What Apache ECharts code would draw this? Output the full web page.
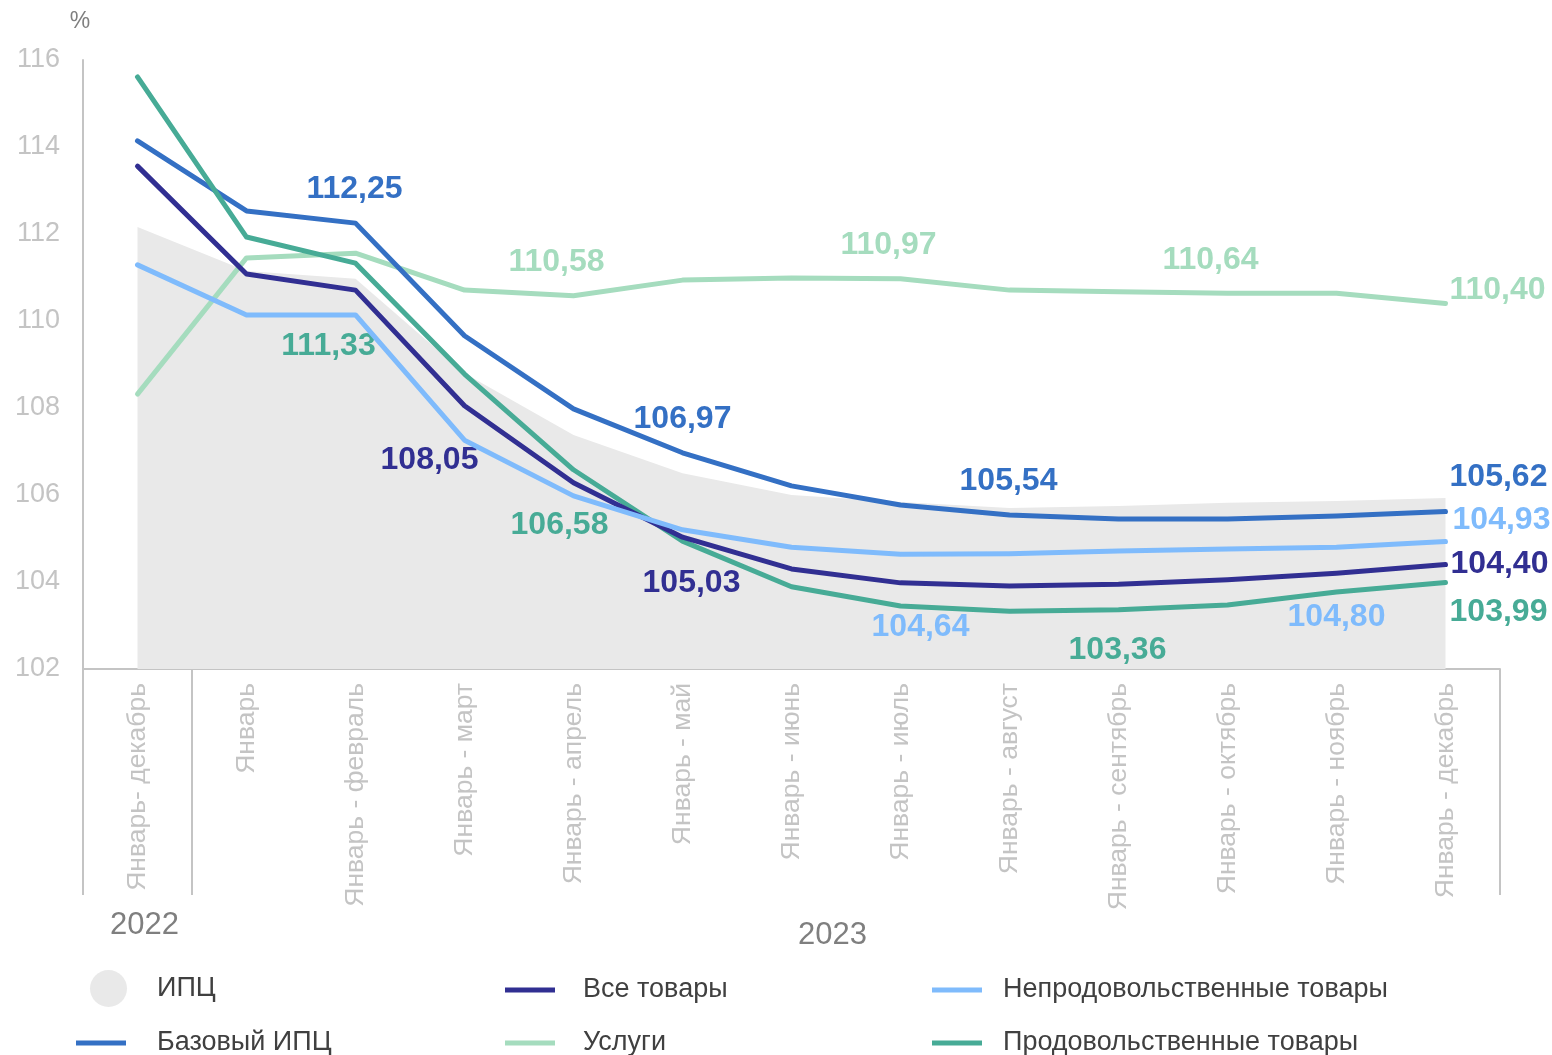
<!DOCTYPE html>
<html>
<head>
<meta charset="utf-8">
<script src="https://cdn.jsdelivr.net/npm/echarts@6/dist/echarts.min.js"></script>
<style>
html,body{margin:0;padding:0;background:#fff;}
#chart{width:1552px;height:1055px;}
</style>
</head>
<body>
<div id="chart"></div>
<script>
// ---- data ----
const categories = ['Январь- декабрь','Январь','Январь - февраль','Январь - март','Январь - апрель','Январь - май','Январь - июнь','Январь - июль','Январь - август','Январь - сентябрь','Январь - октябрь','Январь - ноябрь','Январь - декабрь'];
const yearLabels = ['2022', '2023'];
const cpi      = [112.16, 111.15, 110.97, 108.80, 107.38, 106.50, 106.00, 105.84, 105.70, 105.75, 105.82, 105.86, 105.93];
const coreCpi  = [114.14, 112.53, 112.25, 109.66, 107.98, 106.97, 106.21, 105.77, 105.54, 105.45, 105.45, 105.52, 105.62];
const allGoods = [113.56, 111.08, 110.71, 108.05, 106.28, 105.03, 104.30, 103.98, 103.91, 103.95, 104.05, 104.20, 104.40];
const nonFood  = [111.29, 110.14, 110.14, 107.26, 105.98, 105.20, 104.80, 104.64, 104.65, 104.71, 104.76, 104.80, 104.93];
const services = [108.32, 111.45, 111.56, 110.71, 110.58, 110.94, 110.99, 110.97, 110.71, 110.67, 110.64, 110.64, 110.40];
const food     = [115.61, 111.93, 111.33, 108.78, 106.58, 104.94, 103.89, 103.45, 103.33, 103.36, 103.47, 103.77, 103.99];
const yTicks = {min: 102, max: 116, interval: 2};

// ---- label placement (style, not data) ----
const labelOffsets = {
  core:     {2: [-1, -34], 5: [0, -34], 8: [-1, -34], 12: [53, -34]},
  allGoods: {3: [-35, 54], 5: [9, 46], 12: [54, 0]},
  nonFood:  {7: [20, 73], 11: [0, 70], 12: [56, -21]},
  services: {4: [-17, -34], 7: [-12, -34], 10: [-17, -33], 12: [52, -13]},
  food:     {2: [-27, 83], 4: [-14, 55], 9: [-1, 40], 12: [53, 30]}
};

const FONT = 'Liberation Sans, Arial, sans-serif';
const fmt = v => v.toFixed(2).replace('.', ',');

function withLabels(values, offsets, color) {
  return values.map((v, i) => offsets[i] ? {
    value: v,
    label: {
      show: true, position: 'inside', offset: offsets[i],
      formatter: p => fmt(p.value),
      color: color, fontSize: 32, fontWeight: 'bold', fontFamily: FONT
    }
  } : v);
}

const C = {
  cpi: '#e9e9e9', core: '#3470c4', all: '#312f92', nonFood: '#7fbbfc',
  services: '#a5dcbe', food: '#47ab96'
};

function lineSeries(name, values, offsets, color, z) {
  return {
    name, type: 'line', z,
    data: withLabels(values, offsets, color),
    symbol: 'circle', symbolSize: 1, showSymbol: true,
    itemStyle: {color},
    lineStyle: {color, width: 5, cap: 'round', join: 'round'},
    label: {show: false},
    emphasis: {disabled: true},
    animation: false
  };
}

const chart = echarts.init(document.getElementById('chart'), null, {renderer: 'canvas'});

const legendText = {color: '#404040', fontSize: 27, fontFamily: FONT, lineHeight: 30};
function lg(name, left, top, icon, w, h, pad) {
  return {
    data: [name], left, top, padding: 0,
    icon, itemWidth: w, itemHeight: h,
    selectedMode: false,
    textStyle: Object.assign({}, legendText, {padding: [0, 0, 0, pad]})
  };
}

const option = {
  backgroundColor: '#ffffff',
  animation: false,
  grid: {left: 83, right: 52, top: 60, bottom: 386, containLabel: false},
  legend: [
    lg('ИПЦ', 90, 970, 'circle', 37, 37, 25),
    lg('Все товары', 505, 975, 'rect', 50, 5, 23),
    lg('Непродовольственные товары', 932, 975, 'rect', 50, 5, 16),
    lg('Базовый ИПЦ', 76, 1028, 'rect', 50, 5, 26),
    lg('Услуги', 505, 1028, 'rect', 50, 5, 23),
    lg('Продовольственные товары', 932, 1028, 'rect', 50, 5, 16)
  ],
  xAxis: {
    type: 'category', data: categories, boundaryGap: true,
    axisLine: {show: true, lineStyle: {color: '#c4c4c4', width: 2}},
    axisTick: {
      show: true, length: 226, interval: (idx) => idx === 0 || idx === 1,
      lineStyle: {color: '#c4c4c4', width: 2}
    },
    axisLabel: {
      interval: 0, rotate: 90, margin: 14, color: '#c4c4c4', fontSize: 26.5, fontFamily: FONT
    },
    splitLine: {show: false}
  },
  yAxis: {
    type: 'value', min: yTicks.min, max: yTicks.max, interval: yTicks.interval,
    name: '%', nameLocation: 'end', nameGap: 27,
    nameTextStyle: {color: '#7f7f7f', fontSize: 23, fontFamily: FONT, align: 'center', padding: [0, 6, 0, 0]},
    axisLine: {show: true, lineStyle: {color: '#c4c4c4', width: 2}},
    axisTick: {show: false},
    splitLine: {show: false},
    axisLabel: {color: '#c4c4c4', fontSize: 27, margin: 23, fontFamily: FONT, padding: [4, 0, 0, 0]}
  },
  graphic: [
    {type: 'text', left: 110, top: 910, style: {text: yearLabels[0], fill: '#7f7f7f', fontSize: 31, fontFamily: FONT}},
    {type: 'text', left: 798, top: 920, style: {text: yearLabels[1], fill: '#7f7f7f', fontSize: 31, fontFamily: FONT}}
  ],
  series: [
    {
      name: 'ИПЦ', type: 'line', z: 1, data: cpi,
      symbol: 'none', itemStyle: {color: C.cpi},
      lineStyle: {width: 0, color: C.cpi},
      areaStyle: {color: C.cpi, opacity: 1},
      emphasis: {disabled: true}
    },
    lineSeries('Услуги', services, labelOffsets.services, C.services, 2),
    lineSeries('Базовый ИПЦ', coreCpi, labelOffsets.core, C.core, 3),
    lineSeries('Продовольственные товары', food, labelOffsets.food, C.food, 4),
    lineSeries('Все товары', allGoods, labelOffsets.allGoods, C.all, 5),
    lineSeries('Непродовольственные товары', nonFood, labelOffsets.nonFood, C.nonFood, 6)
  ]
};
chart.setOption(option);
</script>
</body>
</html>
